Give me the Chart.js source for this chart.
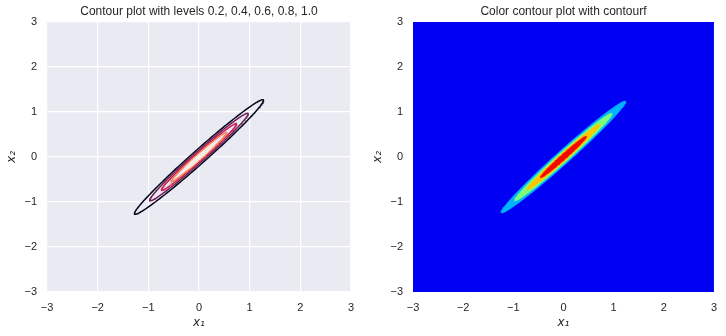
<!DOCTYPE html>
<html><head><meta charset="utf-8">
<script src="https://cdn.jsdelivr.net/npm/chart.js@4/dist/chart.umd.min.js"></script>
<style>
html,body{margin:0;padding:0;background:#fff;}
#wrap{position:relative;width:726px;height:336px;}
.cv{position:absolute;top:0;}
</style></head>
<body>
<div id="wrap">
  <div class="cv" style="left:0;width:363px;height:336px"><canvas id="c1"></canvas></div>
  <div class="cv" style="left:363px;width:363px;height:336px"><canvas id="c2"></canvas></div>
</div>
<script>
// ---- data ----
const tickValues = [-3, -2, -1, 0, 1, 2, 3];
const tickLabels = ['\u22123', '\u22122', '\u22121', '0', '1', '2', '3'];

// left panel: contour lines
const contourLevels = [0.2, 0.4, 0.6, 0.8, 1.0];
const contourTipX1 = [1.27, 0.97, 0.74, 0.55, 0.30];      // x1 at the tip of each contour (along the diagonal)
const contourHalfWidthX1 = [0.20, 0.155, 0.115, 0.085, 0.045]; // half width along x1 through the centre
const contourColors = ['#03051A', '#701F57', '#CB1B4F', '#F4825A', '#FAEBDD'];

// right panel: filled bands
const bandLevels = [0.2, 0.4, 0.6, 0.8];
const bandTipX1 = [1.24, 0.97, 0.73, 0.46];
const bandHalfWidthX1 = [0.20, 0.155, 0.115, 0.08];
const bandColors = ['#00B2FF', '#7BFF7B', '#FFC600', '#F40900'];
const bandBackground = '#0000F3';

const titles = ['Contour plot with levels 0.2, 0.4, 0.6, 0.8, 1.0', 'Color contour plot with contourf'];
const xLabel = 'x\u2081';
const yLabel = 'x\u2082';

// ---- build shapes (ellipses along the x1 = x2 diagonal) ----
function ellipse(tip, hw) {
  const U = tip * Math.SQRT2;
  const invV2 = 2 / (hw * hw) - 1 / (U * U);
  const V = 1 / Math.sqrt(invV2);
  const pts = [];
  const n = 180;
  for (let i = 0; i <= n; i++) {
    const t = 2 * Math.PI * i / n;
    const u = U * Math.cos(t), v = V * Math.sin(t);
    pts.push({x: (u - v) / Math.SQRT2, y: (u + v) / Math.SQRT2});
  }
  return pts;
}

const FONT = "'Liberation Sans', Arial, sans-serif";
const TXT = '#262626';

function bgPlugin(color) {
  return {
    id: 'bg',
    beforeDraw(chart) {
      const a = chart.chartArea, ctx = chart.ctx;
      ctx.save(); ctx.fillStyle = color;
      ctx.fillRect(a.left, a.top, a.right - a.left, a.bottom - a.top);
      ctx.restore();
    }
  };
}

function axes(yWidth, showGrid, yTitlePad) {
  const common = {
    type: 'linear', min: -3, max: 3,
    afterBuildTicks: s => { s.ticks = tickValues.map(v => ({value: v})); },
    ticks: {color: TXT, font: {family: FONT, size: 11},
            callback: v => tickLabels[tickValues.indexOf(v)]},
    grid: {display: showGrid, color: '#FFFFFF', lineWidth: 1.2, drawTicks: false},
    border: {display: false}
  };
  return {
    x: Object.assign({}, common, {
      position: 'bottom',
      ticks: Object.assign({}, common.ticks, {padding: 9, maxRotation: 0}),
      title: {display: true, text: xLabel, color: TXT, font: {family: 'DejaVu Sans', size: 12, style: 'italic'}, padding: {top: 6, bottom: 6}},
      afterFit: s => { s.height = 44; }
    }),
    y: Object.assign({}, common, {
      position: 'left',
      ticks: Object.assign({}, common.ticks, {padding: 10}),
      title: {display: true, text: yLabel, color: TXT, font: {family: 'DejaVu Sans', size: 12, style: 'italic'}, padding: {top: yTitlePad, bottom: yTitlePad}},
      afterFit: s => { s.width = yWidth; }
    })
  };
}

function baseOptions(title, yWidth, rightPad, showGrid, yTitlePad) {
  return {
    responsive: false, animation: false, maintainAspectRatio: false,
    layout: {padding: {left: 0, right: rightPad, top: 0, bottom: 0}},
    plugins: {
      legend: {display: false}, tooltip: {enabled: false},
      title: {display: true, fullSize: false, text: title, color: TXT, font: {family: FONT, size: 12, weight: 'normal'}, padding: {top: 4, bottom: 3.6}}
    },
    scales: axes(yWidth, showGrid, yTitlePad),
    elements: {point: {radius: 0}, line: {tension: 0}}
  };
}

// left chart
const c1 = document.getElementById('c1');
c1.width = 363; c1.height = 336;
const leftSets = contourLevels.map((lv, i) => ({
  label: String(lv),
  data: ellipse(contourTipX1[i], contourHalfWidthX1[i]),
  showLine: true, borderColor: contourColors[i], borderWidth: 1.5,
  fill: false, pointRadius: 0
})).reverse();
new Chart(c1, {type: 'scatter', data: {datasets: leftSets},
  options: baseOptions(titles[0], 47, 12, true, 5), plugins: [bgPlugin('#EAEAF2')]});

// right chart
const c2 = document.getElementById('c2');
c2.width = 363; c2.height = 336;
const rightSets = bandLevels.map((lv, i) => ({
  label: String(lv),
  data: ellipse(bandTipX1[i], bandHalfWidthX1[i]),
  showLine: true, borderColor: bandColors[i], borderWidth: 0.5,
  backgroundColor: bandColors[i], fill: 'shape', pointRadius: 0
})).reverse();
new Chart(c2, {type: 'scatter', data: {datasets: rightSets},
  options: baseOptions(titles[1], 50, 11, false, 8), plugins: [bgPlugin(bandBackground)]});
</script>
</body></html>
